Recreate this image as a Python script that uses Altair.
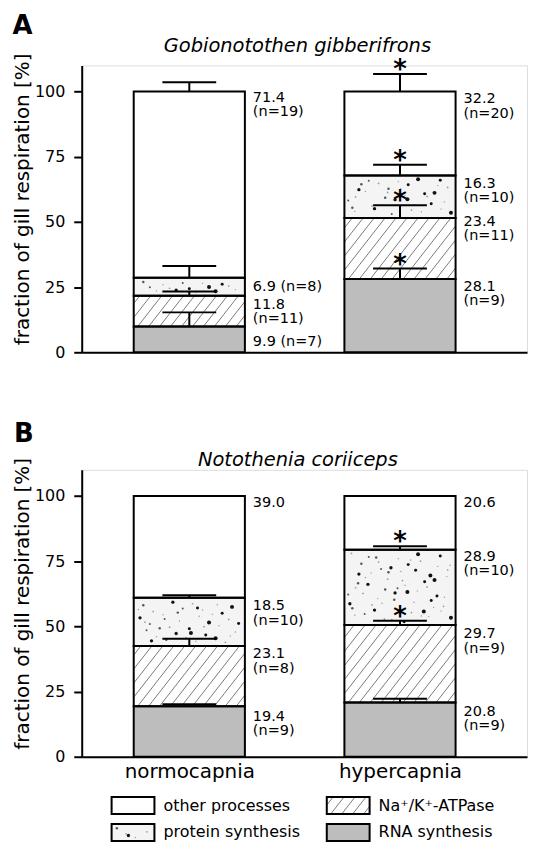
import math
import altair as alt
import pandas as pd

# ---------------- data ----------------
categories = ["normocapnia", "hypercapnia"]
processes = ["RNA synthesis", "Na⁺/K⁺-ATPase", "protein synthesis", "other processes"]  # bottom -> top
panel_letters = ["A", "B"]
species = ["Gobionotothen gibberifrons", "Notothenia coriiceps"]

# Panel A  (Gobionotothen gibberifrons)
a_normo_mean = [9.9, 11.8, 6.9, 71.4]
a_hyper_mean = [28.1, 23.4, 16.3, 32.2]
a_normo_err = [5.4, 1.6, 4.5, 3.5]
a_hyper_err = [4.0, 4.9, 4.1, 6.7]
a_normo_n = [7, 11, 8, 19]
a_hyper_n = [9, 11, 10, 20]
a_normo_sig = [0, 0, 0, 0]
a_hyper_sig = [1, 1, 1, 1]

# Panel B  (Notothenia coriiceps)
b_normo_mean = [19.4, 23.1, 18.5, 39.0]
b_hyper_mean = [20.8, 29.7, 28.9, 20.6]
b_normo_err = [0.7, 2.7, 0.9, None]
b_hyper_err = [1.4, 1.6, 1.3, None]
b_normo_n = [9, 8, 10, None]
b_hyper_n = [9, 9, 10, None]
b_normo_sig = [0, 0, 0, 0]
b_hyper_sig = [0, 1, 1, 0]

legend_labels = ["other processes", "Na⁺/K⁺-ATPase", "protein synthesis", "RNA synthesis"]
legend_col = [0, 1, 0, 1]
legend_row = [0, 0, 1, 1]

# ---------------- layout (positions / styles) ----------------
a_normo_label_y = [3.8, 18.3, 25.2, 97.5]
a_hyper_label_y = [25.2, 50.0, 64.5, 97.0]
b_normo_label_y = [15.4, 39.3, 57.7, 97.4]
b_hyper_label_y = [17.3, 46.9, 76.6, 97.4]
a_normo_oneline = [True, False, True, False]
a_hyper_oneline = [False, False, False, False]
b_normo_oneline = [False, False, False, True]
b_hyper_oneline = [False, False, False, True]

PLOT_W = 447
PLOT_H = 288
Y_MAX = 110
SX = 211.5                # px per category unit
SY = PLOT_H / Y_MAX       # px per percent
X_MIN = -108.0 / SX
X_MAX = X_MIN + PLOT_W / SX
BAR_HW = 55.8 / SX
CAP_HW = 27.0 / SX
FONT = "DejaVu Sans"
LABEL_FS = 14.5
LINE_DY = 14.5

fills = {
    "RNA synthesis": "#bdbdbd",
    "Na⁺/K⁺-ATPase": "#ffffff",
    "protein synthesis": "#f4f4f4",
    "other processes": "#ffffff",
}

LEG_X0 = (111 - 81) / SX + X_MIN
LEG_DX = (327 - 111) / SX
LEG_SW = 43 / SX
LEG_TX = 52 / SX
LEG_Y0 = -(806 - 757) / SY
LEG_DY = 27 / SY
LEG_HH = 8.5 / SY


def halton(i, b):
    f, r = 1.0, 0.0
    while i > 0:
        f /= b
        r += f * (i % b)
        i //= b
    return r


def hatch(x0, x1, y0, y1, spacing=11.0, angle=52.0):
    W = (x1 - x0) * SX
    H = (y1 - y0) * SY
    tn = math.tan(math.radians(angle))
    out = []
    k = math.floor((-H / tn) / spacing)
    while k * spacing < W:
        t = k * spacing + 4
        xa, xb = max(0.0, t), min(W, t + H / tn)
        if xb > xa:
            out.append(dict(xa=x0 + xa / SX, ya=y0 + tn * (xa - t) / SY,
                            xb=x0 + xb / SX, yb=y0 + tn * (xb - t) / SY))
        k += 1
    return out


SIZE_CYCLE = [3, 9, 2, 16, 4, 2, 11, 3, 6, 2]


def dots(x0, x1, y0, y1, seed):
    W = (x1 - x0) * SX
    H = (y1 - y0) * SY
    n = max(4, int(W * H / 130))
    out = []
    for k in range(n):
        i = k + 1 + seed
        s = SIZE_CYCLE[i % len(SIZE_CYCLE)]
        col = "#111111" if s >= 9 else ("#555555" if s >= 4 else "#9a9a9a")
        out.append(dict(dx=x0 + (3 + halton(i, 2) * (W - 6)) / SX,
                        dy=y0 + (3 + halton(i, 3) * (H - 6)) / SY,
                        s=s, c=col))
    return out


def build_panel(idx, means, errs, ns, sigs, label_ys, onelines, show_x_labels,
                letter_pos, title_pos, with_legend):
    segs, hat, dts, ebars, caps, stars, lab1, lab2 = [], [], [], [], [], [], [], []
    seed = 0
    for i, cat in enumerate(categories):
        cum = 0.0
        for j, proc in enumerate(processes):
            m = means[i][j]
            y0, y1 = cum, cum + m
            cum = y1
            x0, x1 = i - BAR_HW, i + BAR_HW
            segs.append(dict(x0=x0, x1=x1, y0=y0, y1=y1, proc=proc))
            if j == 1:
                hat += hatch(x0, x1, y0, y1)
            if j == 2:
                dts += dots(x0, x1, y0, y1, seed)
                seed += 37
            e = errs[i][j]
            if e is not None:
                ebars.append(dict(x=i, y=y1, y2=y1 + e))
                caps.append(dict(x=i - CAP_HW, x2=i + CAP_HW, y=y1 + e))
                if sigs[i][j]:
                    stars.append(dict(x=i, y=y1 + e))
            n = ns[i][j]
            if n is None:
                t1, t2 = f"{m:.1f}", ""
            elif onelines[i][j]:
                t1, t2 = f"{m:.1f} (n={n})", ""
            else:
                t1, t2 = f"{m:.1f}", f"(n={n})"
            lab1.append(dict(x=i + BAR_HW, y=label_ys[i][j], t=t1))
            if t2:
                lab2.append(dict(x=i + BAR_HW, y=label_ys[i][j], t=t2))

    if with_legend:
        for k, lab in enumerate(legend_labels):
            lx0 = LEG_X0 + legend_col[k] * LEG_DX
            lx1 = lx0 + LEG_SW
            yc = LEG_Y0 - legend_row[k] * LEG_DY
            ly0, ly1 = yc - LEG_HH, yc + LEG_HH
            segs.append(dict(x0=lx0, x1=lx1, y0=ly0, y1=ly1, proc=lab))
            if lab == processes[1]:
                hat += hatch(lx0, lx1, ly0, ly1)
            if lab == processes[2]:
                dts += dots(lx0, lx1, ly0, ly1, 5)

    xscale = alt.Scale(domain=[X_MIN, X_MAX], nice=False, zero=False)
    yscale = alt.Scale(domain=[0, Y_MAX], nice=False, zero=False)
    xaxis = alt.Axis(values=[0, 1], labels=show_x_labels, ticks=False, tickSize=0,
                     labelExpr="['normocapnia', 'hypercapnia'][datum.value]",
                     labelFontSize=20, labelPadding=5, labelColor="black",
                     labelFont=FONT, domainColor="black", domainWidth=2,
                     grid=False, title=None)
    yaxis = alt.Axis(values=[0, 25, 50, 75, 100], title="fraction of gill respiration [%]",
                     titleFontSize=20, titleFontWeight="normal", titleFont=FONT,
                     titleColor="black", titleX=-49, titleY=134,
                     labelFontSize=16, labelPadding=9, labelColor="black", labelFont=FONT,
                     tickSize=8, tickWidth=2, tickColor="black",
                     domainColor="black", domainWidth=2, grid=False)

    def X(f):
        return alt.X(f, type="quantitative", scale=xscale, axis=xaxis)

    def Y(f):
        return alt.Y(f, type="quantitative", scale=yscale, axis=yaxis)

    segdf = pd.DataFrame(segs)
    base_fill = alt.Chart(segdf).mark_rect(strokeWidth=0).encode(
        x=X("x0"), x2="x1", y=Y("y0"), y2="y1",
        fill=alt.Fill("proc:N", scale=alt.Scale(domain=list(fills.keys()),
                                                range=list(fills.values())), legend=None))
    hatch_l = alt.Chart(pd.DataFrame(hat)).mark_rule(color="#7a7a7a", strokeWidth=1).encode(
        x=X("xa"), y=Y("ya"), x2="xb", y2="yb")
    dots_l = alt.Chart(pd.DataFrame(dts)).mark_circle(opacity=1).encode(
        x=X("dx"), y=Y("dy"), size=alt.Size("s:Q", scale=None),
        color=alt.Color("c:N", scale=None))
    outline = alt.Chart(segdf).mark_rect(fillOpacity=0, stroke="black", strokeWidth=2).encode(
        x=X("x0"), x2="x1", y=Y("y0"), y2="y1")
    layers = [base_fill, hatch_l, dots_l, outline]
    if ebars:
        layers.append(alt.Chart(pd.DataFrame(ebars)).mark_rule(color="black", strokeWidth=2).encode(
            x=X("x"), y=Y("y"), y2="y2"))
        layers.append(alt.Chart(pd.DataFrame(caps)).mark_rule(color="black", strokeWidth=2).encode(
            x=X("x"), x2="x2", y=Y("y")))
    if stars:
        layers.append(alt.Chart(pd.DataFrame(stars)).mark_text(
            text="*", fontSize=26, fontWeight="bold", font=FONT, baseline="alphabetic",
            align="center", dy=4, color="black").encode(x=X("x"), y=Y("y")))
    layers.append(alt.Chart(pd.DataFrame(lab1)).mark_text(
        fontSize=LABEL_FS, font=FONT, align="left", baseline="middle", dx=8, color="black").encode(
        x=X("x"), y=Y("y"), text="t:N"))
    if lab2:
        layers.append(alt.Chart(pd.DataFrame(lab2)).mark_text(
            fontSize=LABEL_FS, font=FONT, align="left", baseline="middle", dx=8, dy=LINE_DY,
            color="black").encode(x=X("x"), y=Y("y"), text="t:N"))
    if with_legend:
        leg = pd.DataFrame(dict(
            x=[LEG_X0 + c * LEG_DX + LEG_TX for c in legend_col],
            y=[LEG_Y0 - r * LEG_DY for r in legend_row],
            t=legend_labels))
        layers.append(alt.Chart(leg).mark_text(
            fontSize=16, font=FONT, align="left", baseline="middle", color="black").encode(
            x=X("x"), y=Y("y"), text="t:N"))
    hdr = pd.DataFrame(dict(t=[panel_letters[idx]], s=[species[idx]]))
    layers.append(alt.Chart(hdr).mark_text(
        fontSize=26, fontWeight="bold", font=FONT, baseline="middle", align="center",
        color="black").encode(x=alt.value(letter_pos[0]), y=alt.value(letter_pos[1]), text="t:N"))
    layers.append(alt.Chart(hdr).mark_text(
        fontSize=19.5, fontStyle="italic", font=FONT, baseline="middle", align="center",
        color="black").encode(x=alt.value(title_pos[0]), y=alt.value(title_pos[1]), text="s:N"))
    return alt.layer(*layers).properties(width=PLOT_W, height=PLOT_H)


panel_a = build_panel(
    0,
    [a_normo_mean, a_hyper_mean], [a_normo_err, a_hyper_err], [a_normo_n, a_hyper_n],
    [a_normo_sig, a_hyper_sig], [a_normo_label_y, a_hyper_label_y],
    [a_normo_oneline, a_hyper_oneline], False, (-59.5, -40), (216.5, -19.5), False)
panel_b = build_panel(
    1,
    [b_normo_mean, b_hyper_mean], [b_normo_err, b_hyper_err], [b_normo_n, b_hyper_n],
    [b_normo_sig, b_hyper_sig], [b_normo_label_y, b_hyper_label_y],
    [b_normo_oneline, b_hyper_oneline], True, (-58, -36), (217, -10), True)

chart = alt.vconcat(panel_a, panel_b, spacing=118, bounds="flush").properties(
    padding={"left": 3, "top": 2, "right": 0, "bottom": 0}
).configure_view(stroke=None).configure(font=FONT)

chart.save("out.html", embed_options={"renderer": "svg", "actions": False})
